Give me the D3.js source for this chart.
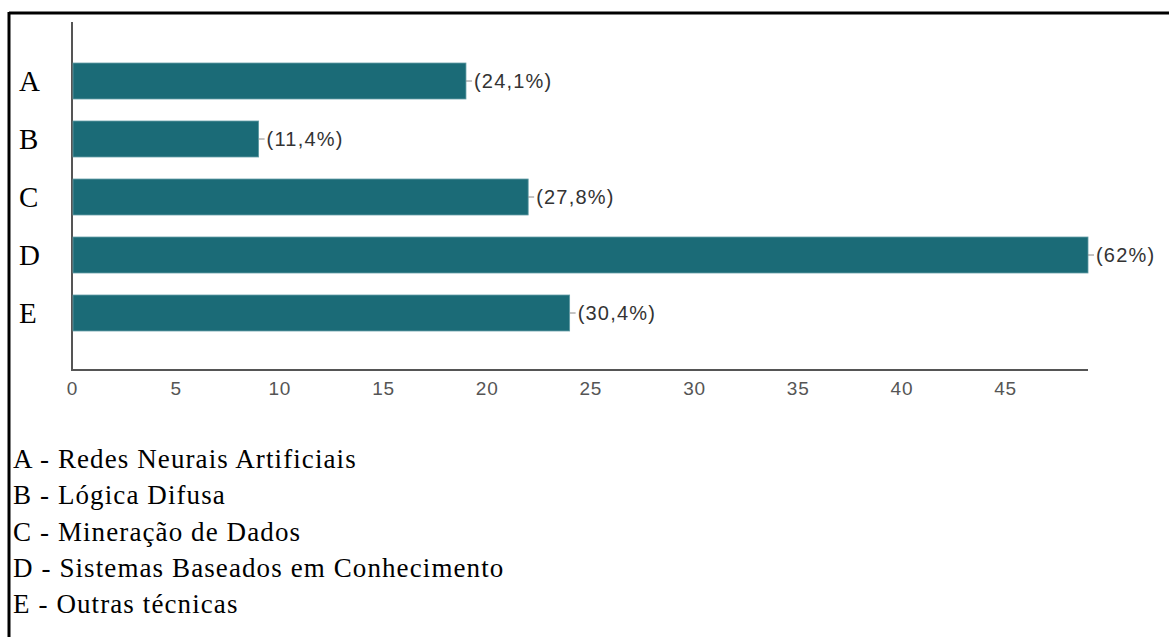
<!DOCTYPE html>
<html><head><meta charset="utf-8">
<script src="https://cdn.jsdelivr.net/npm/d3@7"></script>
<style>body{margin:0;background:#fff}</style>
</head><body>
<svg id="c" width="1169" height="637"></svg>
<script>
const categories = ["A","B","C","D","E"];
const values = [19, 9, 22, 49, 24];
const percentLabels = ["(24,1%)","(11,4%)","(27,8%)","(62%)","(30,4%)"];
const xTicks = [0,5,10,15,20,25,30,35,40,45];
const legendItems = ["A - Redes Neurais Artificiais","B - Lógica Difusa","C - Mineração de Dados","D - Sistemas Baseados em Conhecimento","E - Outras técnicas"];

const svg = d3.select("#c");
// frame
svg.append("line").attr("x1",9).attr("x2",1169).attr("y1",13).attr("y2",13).attr("stroke","#000").attr("stroke-width",3);
svg.append("line").attr("x1",9).attr("x2",9).attr("y1",12).attr("y2",637).attr("stroke","#000").attr("stroke-width",3);

const x = d3.scaleLinear().domain([0,49]).range([72,1088]);
const y = d3.scaleBand().domain(categories).range([52,342]).paddingInner(0.38).paddingOuter(0.19);

// axes lines
svg.append("line").attr("x1",72).attr("x2",72).attr("y1",22).attr("y2",371).attr("stroke","#555").attr("stroke-width",2);
svg.append("line").attr("x1",71).attr("x2",x(49)).attr("y1",370).attr("y2",370).attr("stroke","#555").attr("stroke-width",2);

const xAxis = svg.append("g").attr("transform","translate(0,370)")
  .call(d3.axisBottom(x).tickValues(xTicks).tickSize(0).tickPadding(12));
xAxis.select(".domain").remove();
xAxis.selectAll("text").attr("font-family","Liberation Sans, Arial, sans-serif").attr("font-size",19)
  .attr("letter-spacing",0.8).attr("fill","#555");

// bars
svg.selectAll("rect.bar").data(values).enter().append("rect")
  .attr("x", x(0)+1).attr("y",(d,i)=>y(categories[i]))
  .attr("width",d=>x(d)-x(0)-1).attr("height",y.bandwidth())
  .attr("fill","#1b6b77").attr("stroke","#5f9aa3").attr("stroke-width",0.8);

// leader + labels
svg.selectAll("line.lead").data(values).enter().append("line")
  .attr("x1",d=>x(d)).attr("x2",d=>x(d)+6)
  .attr("y1",(d,i)=>y(categories[i])+y.bandwidth()/2).attr("y2",(d,i)=>y(categories[i])+y.bandwidth()/2)
  .attr("stroke","#888").attr("stroke-width",1);
svg.selectAll("text.val").data(values).enter().append("text")
  .attr("x",d=>x(d)+8).attr("y",(d,i)=>y(categories[i])+y.bandwidth()/2)
  .attr("dy","0.36em").attr("font-family","Liberation Sans, Arial, sans-serif").attr("font-size",20)
  .attr("letter-spacing",1.2).attr("fill","#333").text((d,i)=>percentLabels[i]);

// category labels
svg.selectAll("text.cat").data(categories).enter().append("text")
  .attr("x",19).attr("y",d=>y(d)+y.bandwidth()/2).attr("dy","0.35em")
  .attr("font-family","Liberation Serif, Times New Roman, serif").attr("font-size",29)
  .attr("fill","#000").text(d=>d);

// legend
svg.selectAll("text.leg").data(legendItems).enter().append("text")
  .attr("x",13).attr("y",(d,i)=>468+i*36.3)
  .attr("font-family","Liberation Serif, Times New Roman, serif").attr("font-size",27)
  .attr("letter-spacing",1.1).attr("fill","#000").text(d=>d);
</script>
</body></html>
